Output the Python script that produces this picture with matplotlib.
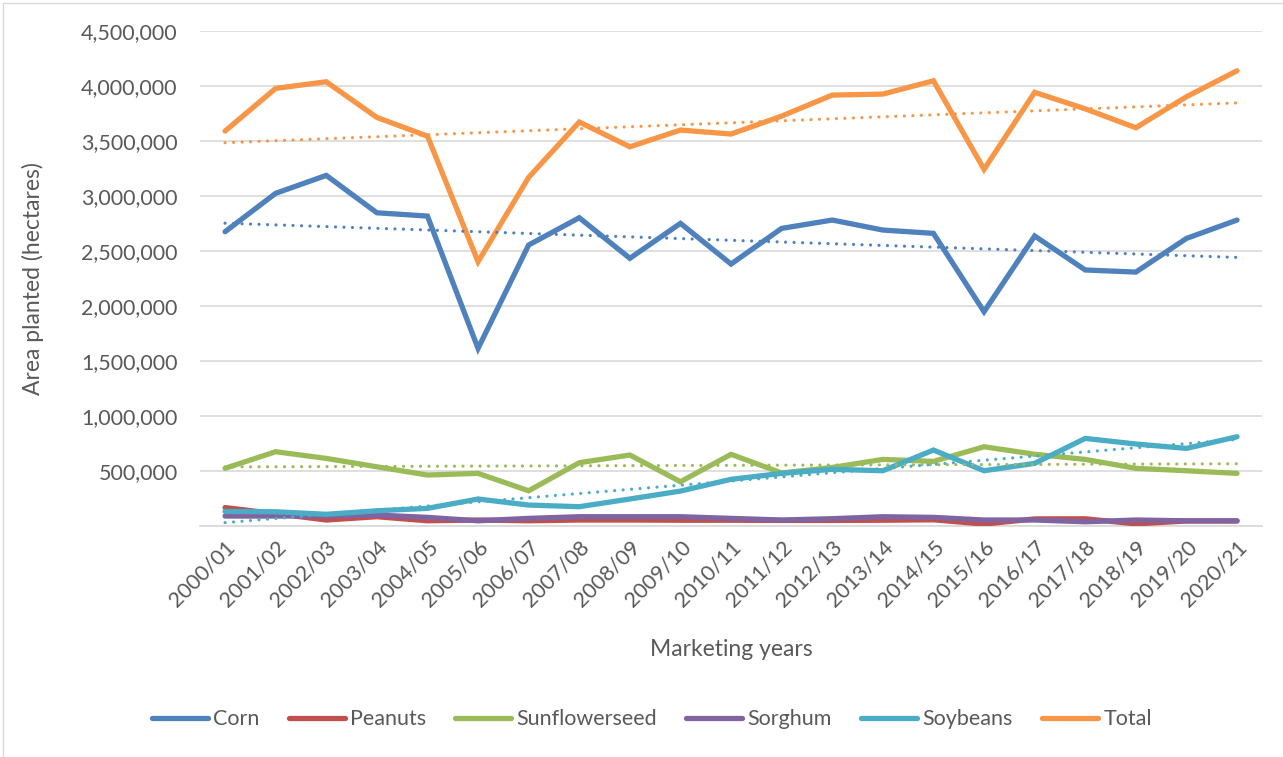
import numpy as np
from matplotlib import pyplot as plt
from matplotlib.patches import Rectangle

# Marketing years on the x axis
years = ['2000/01', '2001/02', '2002/03', '2003/04', '2004/05', '2005/06', '2006/07',
         '2007/08', '2008/09', '2009/10', '2010/11', '2011/12', '2012/13', '2013/14',
         '2014/15', '2015/16', '2016/17', '2017/18', '2018/19', '2019/20', '2020/21']

# Area planted (hectares)
corn = [2673000, 3022000, 3185000, 2845000, 2815000, 1612000, 2552000, 2800000, 2431000,
        2749000, 2379000, 2703000, 2779000, 2688000, 2658000, 1946000, 2634000, 2325000,
        2306000, 2612000, 2779000]
peanuts = [165000, 110000, 52000, 82000, 45000, 52000, 45000, 52000, 52000, 50000, 50000,
           48000, 48000, 50000, 54000, 15000, 62000, 63000, 17000, 43000, 43000]
sunflowerseed = [522000, 673000, 612000, 536000, 461000, 476000, 318000, 573000, 643000,
                 400000, 649000, 480000, 530000, 603000, 585000, 718000, 650000, 603000,
                 522000, 500000, 476000]
sorghum = [88000, 88000, 90000, 97000, 76000, 45000, 67000, 82000, 82000, 82000, 67000,
           52000, 64000, 82000, 76000, 52000, 52000, 36000, 52000, 45000, 45000]
soybeans = [130000, 127000, 104000, 136000, 158000, 243000, 188000, 173000, 243000, 315000,
            422000, 476000, 513000, 500000, 688000, 500000, 567000, 794000, 743000, 703000,
            809000]
total = [3588000, 3976000, 4036000, 3712000, 3542000, 2400000, 3167000, 3670000, 3445000,
         3597000, 3561000, 3724000, 3915000, 3924000, 4045000, 3240000, 3940000, 3790000,
         3618000, 3900000, 4136000]

series = [
    ('Corn', corn, '#4F81BD', True),
    ('Peanuts', peanuts, '#C0504D', False),
    ('Sunflowerseed', sunflowerseed, '#9BBB59', True),
    ('Sorghum', sorghum, '#8064A2', False),
    ('Soybeans', soybeans, '#4BACC6', True),
    ('Total', total, '#F79646', True),
]

text_color = '#595959'
grid_color = '#d9d9d9'
plt.rcParams['font.family'] = ['Lato', 'DejaVu Sans']

fig = plt.figure(figsize=(12.83, 7.57), dpi=100)
ax = fig.add_axes([0.1557, 0.3055, 0.8282, 0.6539])

x = np.arange(len(years))

# Series lines
for i, (name, values, color, trend) in enumerate(series):
    ax.plot(x, values, color=color, lw=3.8, label=name, solid_capstyle='round',
            solid_joinstyle='miter', zorder=3 + i * 0.1)

# Linear trendlines (as in the spreadsheet chart)
for name, values, color, trend in series:
    if not trend:
        continue
    k, b = np.polyfit(x, values, 1)
    ax.plot(x, k * x + b, color=color, lw=2.3, linestyle=(0, (0.01, 2.65)),
            dash_capstyle='round', zorder=5)

# Axes styling
ax.set_xlim(-0.5, len(years) - 0.5)
ax.set_ylim(0, 4500000)
ax.set_yticks(np.arange(0, 4500001, 500000))
ax.set_yticklabels([''] + [f'{v:,}' for v in range(500000, 4500001, 500000)])
ax.set_xticks(x)
ax.set_xticklabels(years, rotation=45, ha='right', va='top', rotation_mode='anchor')
ax.tick_params(axis='both', length=0, labelsize=15.5, labelcolor=text_color)
ax.tick_params(axis='y', pad=16)
ax.tick_params(axis='x', pad=8)
ax.grid(axis='y', color=grid_color, lw=1.2)
ax.set_axisbelow(True)
for side in ['left', 'right', 'top']:
    ax.spines[side].set_visible(False)
ax.spines['bottom'].set_color(grid_color)
ax.spines['bottom'].set_linewidth(1.2)

ax.set_ylabel('Area planted (hectares)', fontsize=16.5, color=text_color)
ax.yaxis.label.set_verticalalignment('center')
ax.yaxis.set_label_coords(-0.157, 0.5)
ax.set_xlabel('Marketing years', fontsize=16.5, color=text_color)
ax.xaxis.label.set_verticalalignment('center')
ax.xaxis.set_label_coords(0.5, -0.251)

# Legend below the plot
leg = fig.legend(loc='center', bbox_to_anchor=(0.508, 0.05), ncol=6, frameon=False,
                 fontsize=15.5, handlelength=2.6, handletextpad=0.25, columnspacing=1.35,
                 labelcolor=text_color)
for line in leg.get_lines():
    line.set_linewidth(3.8)

# Chart area border
fig.patches.append(Rectangle((3 / 1283, -0.1), 1.2, 1 - 3 / 757 + 0.1, fill=False,
                             edgecolor=grid_color, lw=1, transform=fig.transFigure))

plt.savefig('out.png', dpi=100)
plt.close()
